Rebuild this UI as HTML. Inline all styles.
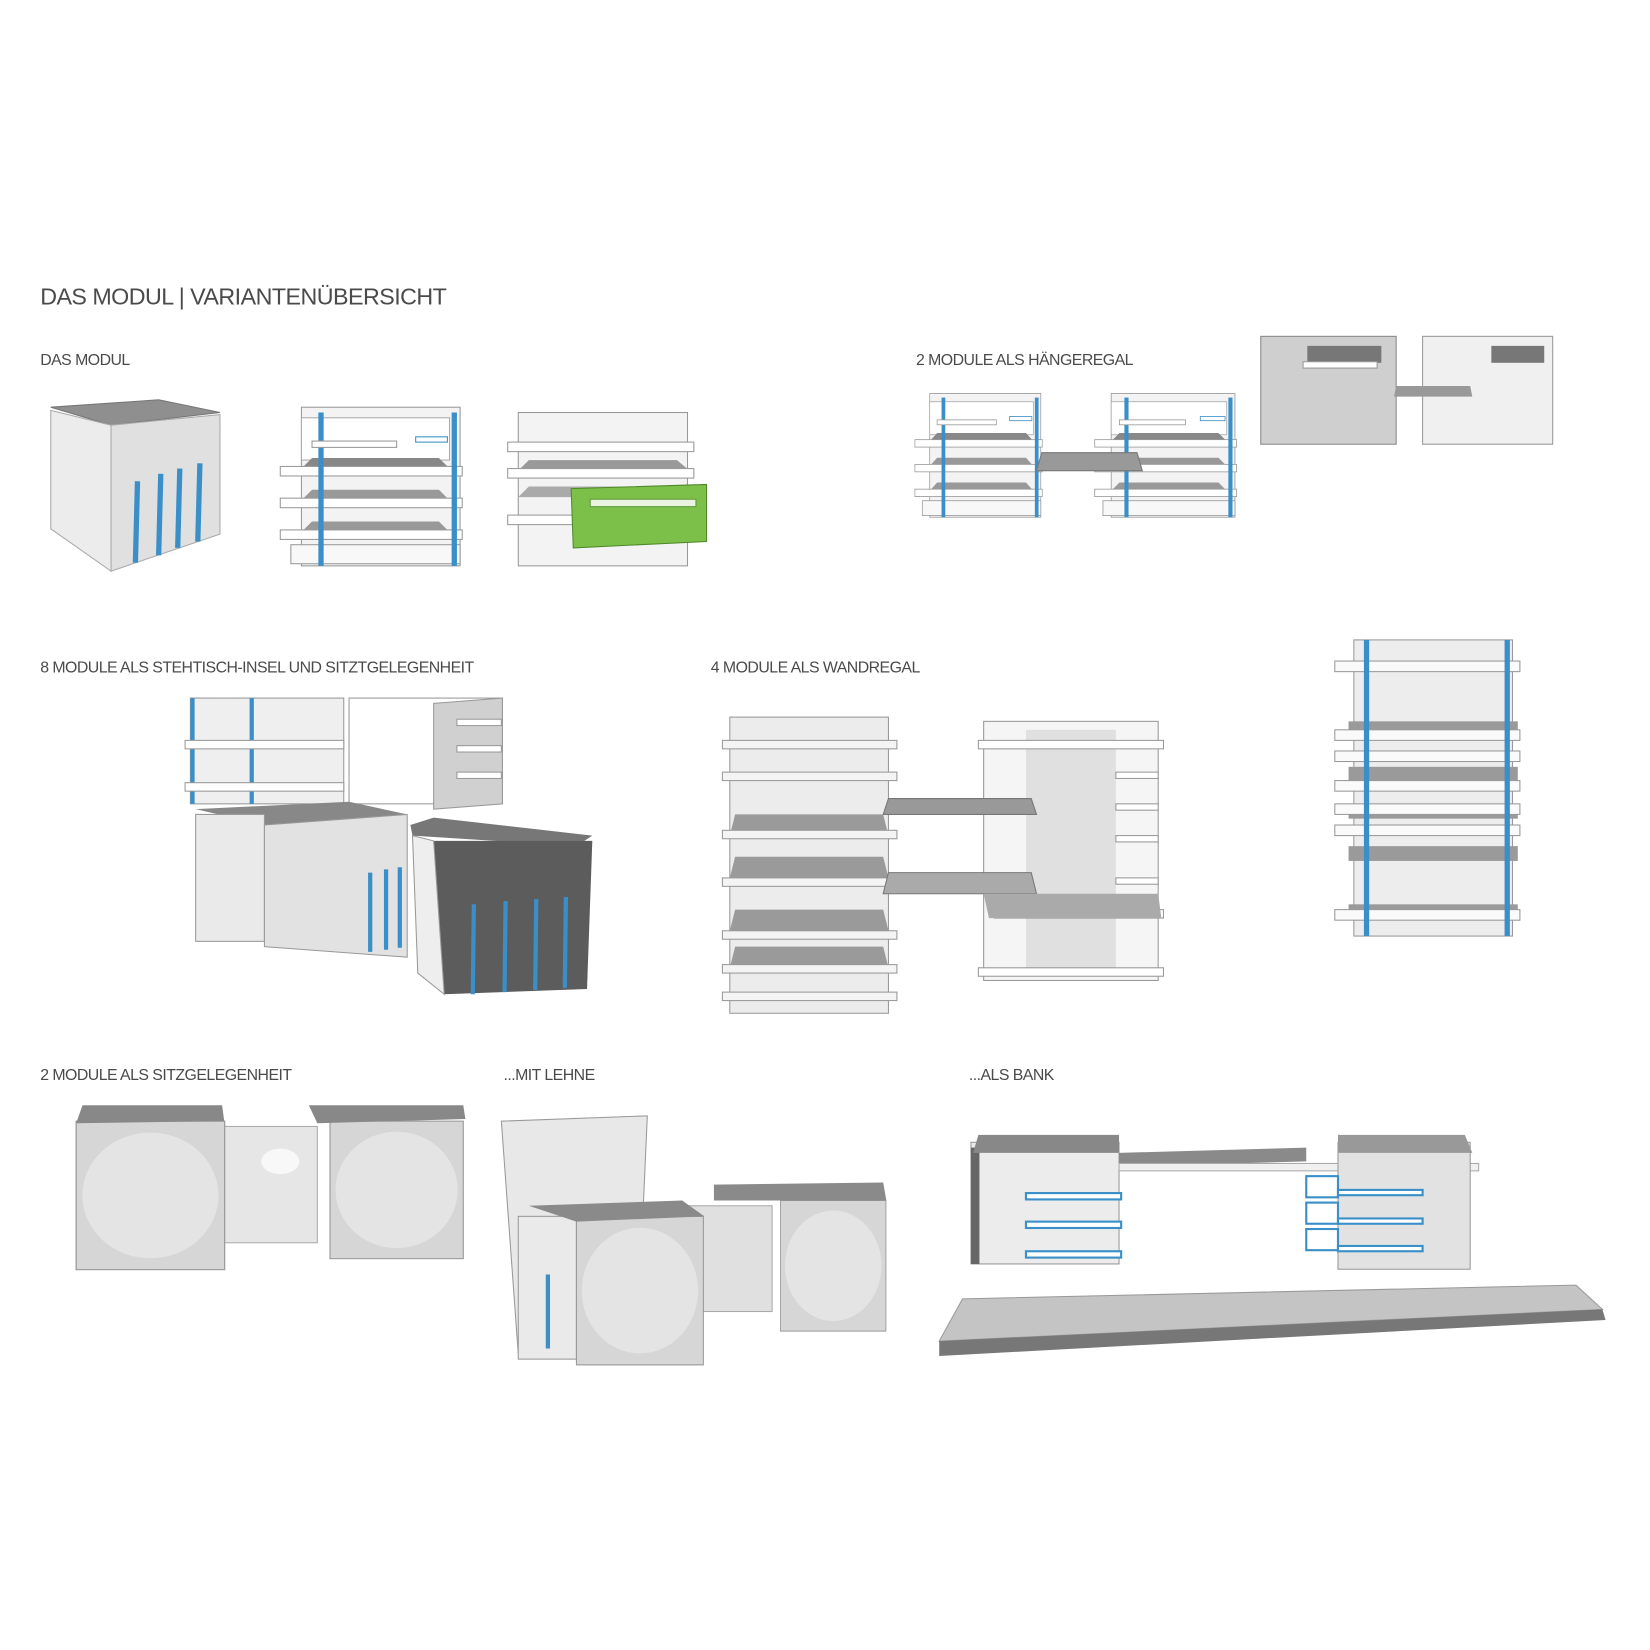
<!DOCTYPE html>
<html><head><meta charset="utf-8"><style>
html,body{margin:0;padding:0;background:#fff;}
svg{display:block;}
text{font-family:"Liberation Sans",sans-serif;fill:#4a4a4a;letter-spacing:-0.5px;}
</style></head><body>
<svg width="1650" height="1650" viewBox="0 0 1560 1560" xmlns="http://www.w3.org/2000/svg">
<defs>
<!-- open shelf unit, ~175x150 -->
<g id="shelf">
  <rect x="20" y="0" width="150" height="150" fill="#f3f3f3" stroke="#999" stroke-width="1"/>
  <rect x="20" y="10" width="140" height="40" fill="#fff" stroke="#aaa"/>
  <polygon points="30,48 150,48 160,58 20,58" fill="#888"/>
  <polygon points="30,78 150,78 160,88 20,88" fill="#999"/>
  <polygon points="30,108 150,108 160,118 20,118" fill="#999"/>
  <rect x="0" y="56" width="172" height="9" fill="#fff" stroke="#999"/>
  <rect x="0" y="86" width="172" height="9" fill="#fff" stroke="#999"/>
  <rect x="0" y="116" width="172" height="9" fill="#fff" stroke="#999"/>
  <rect x="10" y="130" width="160" height="18" fill="#f8f8f8" stroke="#999"/>
  <rect x="36" y="5" width="5" height="145" fill="#3a8fc8"/>
  <rect x="162" y="5" width="5" height="145" fill="#3a8fc8"/>
  <rect x="30" y="32" width="80" height="6" fill="#fff" stroke="#999"/>
  <rect x="128" y="28" width="30" height="5" fill="#fff" stroke="#3a8fc8"/>
</g>
<g id="panel">
  <rect x="0" y="0" width="120" height="130" fill="#d6d6d6" stroke="#999"/>
  <circle cx="60" cy="65" r="55" fill="#e4e4e4"/>
</g>
</defs>

<text x="38" y="288" font-size="22">DAS MODUL | VARIANTENÜBERSICHT</text>
<text x="38" y="345" font-size="15">DAS MODUL</text>
<text x="866" y="345" font-size="15">2 MODULE ALS HÄNGEREGAL</text>
<text x="38" y="636" font-size="15">8 MODULE ALS STEHTISCH-INSEL UND SITZTGELEGENHEIT</text>
<text x="672" y="636" font-size="15">4 MODULE ALS WANDREGAL</text>
<text x="38" y="1021" font-size="15">2 MODULE ALS SITZGELEGENHEIT</text>
<text x="476" y="1021" font-size="15">...MIT LEHNE</text>
<text x="916" y="1021" font-size="15">...ALS BANK</text>

<!-- module cube -->
<polygon points="48,385 150,378 208,390 105,402" fill="#8f8f8f" stroke="#777"/>
<polygon points="48,388 105,402 105,540 48,500" fill="#ececec" stroke="#aaa"/>
<polygon points="105,402 208,392 208,505 105,540" fill="#e0e0e0" stroke="#aaa"/>
<g stroke="#3a8fc8" stroke-width="5">
<line x1="130" y1="455" x2="128" y2="532"/><line x1="152" y1="448" x2="150" y2="525"/>
<line x1="170" y1="443" x2="168" y2="518"/><line x1="189" y1="438" x2="187" y2="512"/>
</g>

<use href="#shelf" transform="translate(265,385)"/>
<!-- module w drawer -->
<g transform="translate(480,390)">
  <rect x="10" y="0" width="160" height="145" fill="#f3f3f3" stroke="#999"/>
  <polygon points="20,45 160,45 172,55 10,55" fill="#999"/>
  <polygon points="20,70 160,70 172,80 10,80" fill="#aaa"/>
  <rect x="0" y="28" width="176" height="9" fill="#fff" stroke="#999"/>
  <rect x="0" y="53" width="176" height="9" fill="#fff" stroke="#999"/>
  <rect x="0" y="97" width="176" height="9" fill="#fff" stroke="#999"/>
  <polygon points="60,72 188,68 188,122 62,128" fill="#7cc04a" stroke="#4e8a28"/>
  <rect x="78" y="82" width="100" height="7" fill="#eaf3e0" stroke="#5f9a38"/>
</g>

<!-- haengeregal -->
<use href="#shelf" transform="translate(865,372) scale(0.7,0.78)"/>
<use href="#shelf" transform="translate(1035,372) scale(0.78,0.78)"/>
<polygon points="985,428 1075,428 1080,445 980,445" fill="#999" stroke="#777"/>
<rect x="1192" y="318" width="128" height="102" fill="#cfcfcf" stroke="#888"/>
<rect x="1236" y="327" width="70" height="16" fill="#777"/>
<rect x="1232" y="342" width="70" height="6" fill="#fff" stroke="#999"/>
<rect x="1345" y="318" width="123" height="102" fill="#f0f0f0" stroke="#999"/>
<rect x="1410" y="327" width="50" height="16" fill="#777"/>
<polygon points="1320,365 1390,365 1392,375 1318,375" fill="#999"/>

<!-- 8 modules -->
<rect x="180" y="660" width="145" height="100" fill="#efefef" stroke="#999"/>
<g stroke="#3a8fc8" stroke-width="4"><line x1="182" y1="660" x2="182" y2="760"/><line x1="238" y1="660" x2="238" y2="760"/></g>
<rect x="175" y="700" width="150" height="8" fill="#fff" stroke="#999"/>
<rect x="175" y="740" width="150" height="8" fill="#fff" stroke="#999"/>
<rect x="330" y="660" width="145" height="100" fill="#fff" stroke="#999"/>
<polygon points="410,665 475,660 475,760 410,765" fill="#d0d0d0" stroke="#999"/>
<g fill="#fff" stroke="#999"><rect x="432" y="680" width="42" height="6"/><rect x="432" y="705" width="42" height="6"/><rect x="432" y="730" width="42" height="6"/></g>
<polygon points="185,765 330,758 385,770 250,780" fill="#888"/>
<rect x="185" y="770" width="65" height="120" fill="#eaeaea" stroke="#999"/>
<polygon points="250,780 385,770 385,905 250,895" fill="#e2e2e2" stroke="#999"/>
<g stroke="#3a8fc8" stroke-width="4"><line x1="350" y1="825" x2="350" y2="900"/><line x1="365" y1="822" x2="365" y2="898"/><line x1="378" y1="820" x2="378" y2="896"/></g>
<polygon points="388,780 410,773 560,790 545,800 390,790" fill="#777"/>
<polygon points="410,795 560,795 555,935 420,940" fill="#5c5c5c"/>
<polygon points="390,790 410,795 420,940 395,920" fill="#eee" stroke="#999"/>
<g stroke="#3a8fc8" stroke-width="4"><line x1="448" y1="855" x2="447" y2="940"/><line x1="478" y1="852" x2="477" y2="938"/><line x1="507" y1="850" x2="506" y2="936"/><line x1="535" y1="848" x2="534" y2="934"/></g>

<!-- wandregal -->
<rect x="690" y="678" width="150" height="280" fill="#ececec" stroke="#999"/>
<g fill="#9a9a9a"><polygon points="695,770 835,770 840,790 690,790"/><polygon points="695,810 835,810 840,830 690,830"/><polygon points="695,860 835,860 840,880 690,880"/><polygon points="695,895 835,895 840,915 690,915"/></g>
<g fill="#f4f4f4" stroke="#999"><rect x="683" y="700" width="165" height="8"/><rect x="683" y="730" width="165" height="8"/><rect x="683" y="785" width="165" height="8"/><rect x="683" y="830" width="165" height="8"/><rect x="683" y="880" width="165" height="8"/><rect x="683" y="912" width="165" height="8"/><rect x="683" y="938" width="165" height="8"/></g>
<rect x="930" y="682" width="165" height="245" fill="#f5f5f5" stroke="#999"/>
<rect x="970" y="690" width="85" height="230" fill="#e0e0e0"/>
<g fill="#fff" stroke="#999"><rect x="925" y="700" width="175" height="8"/><rect x="940" y="860" width="160" height="8"/><rect x="925" y="915" width="175" height="8"/><rect x="1055" y="730" width="40" height="6"/><rect x="1055" y="760" width="40" height="6"/><rect x="1055" y="790" width="40" height="6"/><rect x="1055" y="830" width="40" height="6"/></g>
<polygon points="840,755 975,755 980,770 835,770" fill="#999" stroke="#777"/>
<polygon points="840,825 975,825 980,845 835,845" fill="#aaa" stroke="#777"/>
<polygon points="930,845 1095,845 1098,868 935,868" fill="#aaa"/>

<!-- tall tower -->
<rect x="1280" y="605" width="150" height="280" fill="#ededed" stroke="#999"/>
<g fill="#9a9a9a"><rect x="1275" y="682" width="160" height="14"/><rect x="1275" y="725" width="160" height="14"/><rect x="1275" y="760" width="160" height="14"/><rect x="1275" y="800" width="160" height="14"/><rect x="1275" y="855" width="160" height="14"/></g>
<g fill="#fafafa" stroke="#999"><rect x="1262" y="625" width="175" height="10"/><rect x="1262" y="690" width="175" height="10"/><rect x="1262" y="710" width="175" height="10"/><rect x="1262" y="738" width="175" height="10"/><rect x="1262" y="760" width="175" height="10"/><rect x="1262" y="780" width="175" height="10"/><rect x="1262" y="860" width="175" height="10"/></g>
<g stroke="#3a8fc8" stroke-width="5"><line x1="1292" y1="605" x2="1292" y2="885"/><line x1="1425" y1="605" x2="1425" y2="885"/></g>

<!-- sitzgelegenheit -->
<rect x="210" y="1065" width="90" height="110" fill="#e6e6e6" stroke="#aaa"/>
<ellipse cx="265" cy="1098" rx="18" ry="12" fill="#f8f8f8"/>
<use href="#panel" transform="translate(72,1060) scale(1.17,1.08)"/>
<use href="#panel" transform="translate(312,1060) scale(1.05,1.0)"/>
<polygon points="78,1045 210,1045 212,1060 72,1062" fill="#888"/>
<polygon points="292,1045 438,1045 440,1058 300,1062" fill="#888"/>

<!-- mit lehne -->
<polygon points="474,1060 612,1055 606,1190 490,1280" fill="#e8e8e8" stroke="#999"/>
<rect x="600" y="1140" width="130" height="100" fill="#e0e0e0" stroke="#aaa"/>
<use href="#panel" transform="translate(738,1135) scale(0.83,0.95)"/>
<polygon points="675,1120 835,1118 838,1135 675,1135" fill="#8a8a8a"/>
<rect x="490" y="1150" width="55" height="135" fill="#eaeaea" stroke="#999"/>
<line x1="518" y1="1205" x2="518" y2="1275" stroke="#3a8fc8" stroke-width="4"/>
<use href="#panel" transform="translate(545,1150) scale(1.0,1.08)"/>
<polygon points="500,1140 645,1135 666,1150 545,1155" fill="#8a8a8a"/>

<!-- bank -->
<rect x="918" y="1080" width="140" height="115" fill="#ececec" stroke="#999"/>
<rect x="918" y="1085" width="8" height="110" fill="#666"/>
<polygon points="925,1073 1058,1073 1058,1090 920,1090" fill="#888"/>
<g fill="#fff" stroke="#3a8fc8" stroke-width="2"><rect x="970" y="1128" width="90" height="6"/><rect x="970" y="1155" width="90" height="6"/><rect x="970" y="1183" width="90" height="6"/></g>
<polygon points="1058,1090 1235,1085 1235,1098 1058,1103" fill="#8a8a8a"/>
<rect x="1058" y="1100" width="340" height="7" fill="#f0f0f0" stroke="#aaa"/>
<rect x="1265" y="1080" width="125" height="120" fill="#e2e2e2" stroke="#999"/>
<polygon points="1265,1073 1385,1073 1392,1090 1265,1090" fill="#999"/>
<g fill="#fff" stroke="#3a8fc8" stroke-width="2"><rect x="1235" y="1112" width="30" height="20"/><rect x="1235" y="1137" width="30" height="20"/><rect x="1235" y="1162" width="30" height="20"/><rect x="1265" y="1125" width="80" height="5"/><rect x="1265" y="1152" width="80" height="5"/><rect x="1265" y="1178" width="80" height="5"/></g>
<polygon points="910,1228 1490,1215 1515,1238 888,1268" fill="#c4c4c4" stroke="#999"/>
<polygon points="888,1268 1515,1238 1518,1248 888,1282" fill="#777"/>
</svg>
</body></html>
